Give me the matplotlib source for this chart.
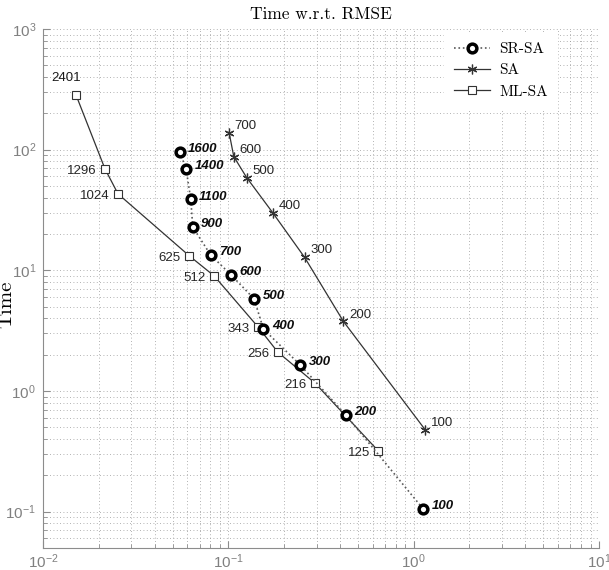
import numpy as np
import matplotlib
matplotlib.use("Agg")
import matplotlib.pyplot as plt

# RMSE (x) and time (y) for the three methods
sr_labels = ["1600", "1400", "1100", "900", "700", "600", "500", "400", "300", "200", "100"]
sr_rmse = [0.0548, 0.0592, 0.0627, 0.0643, 0.0803, 0.1038, 0.1377, 0.1546, 0.2438, 0.4305, 1.128]
sr_time = [95.3, 68.9, 38.8, 22.8, 13.4, 9.12, 5.81, 3.26, 1.65, 0.632, 0.105]

sa_labels = ["700", "600", "500", "400", "300", "200", "100"]
sa_rmse = [0.101, 0.107, 0.1256, 0.1734, 0.258, 0.418, 1.153]
sa_time = [138, 87.6, 58.7, 30.1, 12.8, 3.77, 0.478]

ml_labels = ["2401", "1296", "1024", "625", "512", "343", "256", "216", "125"]
ml_rmse = [0.01507, 0.0216, 0.0254, 0.0615, 0.0838, 0.1445, 0.185, 0.294, 0.643]
ml_time = [284, 69.3, 43.0, 13.2, 9.0, 3.40, 2.10, 1.16, 0.32]

serif = "cmr10"
sans = "Liberation Sans"
plt.rcParams["axes.formatter.use_mathtext"] = True
plt.rcParams["mathtext.fontset"] = "custom"
plt.rcParams["mathtext.rm"] = sans
plt.rcParams["mathtext.it"] = sans + ":italic"
plt.rcParams["font.family"] = [sans, "DejaVu Sans"]

fig = plt.figure(figsize=(6.09, 5.70), dpi=100)
ax = fig.add_axes([43 / 609, 1 - 548 / 570, (599 - 43) / 609, (548 - 29) / 570])

line_col = "0.2"
ax.plot(sr_rmse, sr_time, linestyle=":", color="0.35", linewidth=1.2,
        marker="o", markersize=6.3, markerfacecolor="white", markeredgecolor="black",
        markeredgewidth=2.5, label="SR-SA", zorder=4)
ax.plot(sa_rmse, sa_time, linestyle="-", color=line_col, linewidth=0.9,
        marker=(6, 2, 0), markersize=7, markeredgecolor=line_col,
        markeredgewidth=0.9, label="SA", zorder=3)
ax.plot(ml_rmse, ml_time, linestyle="-", color=line_col, linewidth=0.9,
        marker="s", markersize=6, markerfacecolor="white", markeredgecolor=line_col,
        markeredgewidth=0.8, label="ML-SA", zorder=3)

# point annotations
for lab, x, y in zip(sr_labels, sr_rmse, sr_time):
    ax.annotate(lab, (x, y), xytext=(6, 2), textcoords="offset points",
                ha="left", va="center", fontsize=9.5, fontweight="bold",
                fontstyle="italic", color="0.05", zorder=5)
for lab, x, y in zip(sa_labels, sa_rmse, sa_time):
    ax.annotate(lab, (x, y), xytext=(4, 5), textcoords="offset points",
                ha="left", va="center", fontsize=9.5, color="0.15", zorder=5)
for i, (lab, x, y) in enumerate(zip(ml_labels, ml_rmse, ml_time)):
    if i == 0:
        ax.annotate(lab, (x, y), xytext=(-7, 12), textcoords="offset points",
                    ha="center", va="center", fontsize=9.5, color="0.1", zorder=5)
    else:
        ax.annotate(lab, (x, y), xytext=(-6, -1.5), textcoords="offset points",
                    ha="right", va="center", fontsize=9.5, color="0.15", zorder=5)

ax.set_xscale("log")
ax.set_yscale("log")
ax.set_xlim(1e-2, 1e1)
ax.set_ylim(0.05, 1e3)

ax.grid(True, which="both", linestyle=(0, (1, 3)), color="0.6", linewidth=0.6)
ax.set_axisbelow(True)
for side in ["top", "right"]:
    ax.spines[side].set_visible(False)
for side in ["left", "bottom"]:
    ax.spines[side].set_color("0.55")
    ax.spines[side].set_linewidth(0.8)

ax.tick_params(which="both", direction="in", colors="0.55", labelcolor="0.5",
               labelsize=11)
ax.tick_params(which="major", length=5)
ax.tick_params(which="minor", length=3)
ax.tick_params(axis="x", pad=3)
ax.tick_params(axis="y", pad=5)

ax.set_title("Time w.r.t. RMSE", fontfamily=serif, fontsize=12.5, pad=7)
ax.set_ylabel("Time", fontfamily=serif, fontsize=15, labelpad=2)
ax.yaxis.set_label_coords(-0.05, 0.47)

leg = ax.legend(loc="upper left", bbox_to_anchor=(0.722, 0.992), frameon=True,
                prop={"family": serif, "size": 11}, handlelength=2.4,
                handletextpad=0.6, borderaxespad=0.0, labelspacing=0.5,
                borderpad=0.6)
leg.get_frame().set_edgecolor("white")
leg.get_frame().set_facecolor("white")
leg.get_frame().set_alpha(1.0)

fig.savefig("out.png", dpi=100)
